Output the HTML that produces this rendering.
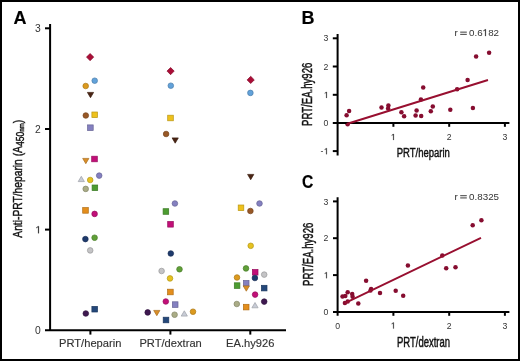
<!DOCTYPE html>
<html><head><meta charset="utf-8"><style>
html,body{margin:0;padding:0;background:#fff;}
#f{position:relative;width:520px;height:361px;overflow:hidden;background:#fff;font-family:"Liberation Sans",sans-serif;}
#f svg{position:absolute;left:0;top:0;will-change:transform;}
#bd{position:absolute;left:0;top:0;width:516px;height:357px;border:2px solid #000;}
</style></head><body><div id="f"><svg width="520" height="361" viewBox="0 0 520 361"><g><path d="M90.1 53.5L93.7 57.1L90.1 60.7L86.5 57.1Z" fill="#aa0d36" stroke="#840a2a" stroke-width="0.7"/><circle cx="94.7" cy="80.7" r="2.8" fill="#62a2da" stroke="#4c7eaa" stroke-width="0.7"/><circle cx="85.7" cy="86.0" r="2.8" fill="#dc9a1e" stroke="#ab7817" stroke-width="0.7"/><path d="M87.4 92.4L93.6 92.4L90.5 97.7Z" fill="#4a2414" stroke="#391c0f" stroke-width="0.7" stroke-linejoin="round"/><circle cx="85.8" cy="115.5" r="2.8" fill="#985826" stroke="#76441d" stroke-width="0.7"/><rect x="91.90" y="112.00" width="5.60" height="5.60" fill="#eec11c" stroke="#b99615" stroke-width="0.7"/><rect x="87.60" y="124.90" width="5.60" height="5.60" fill="#8480c0" stroke="#666395" stroke-width="0.7"/><path d="M82.7 158.4L88.9 158.4L85.8 163.7Z" fill="#d98e28" stroke="#a96e1f" stroke-width="0.7" stroke-linejoin="round"/><rect x="91.70" y="156.20" width="5.60" height="5.60" fill="#c20f78" stroke="#970b5d" stroke-width="0.7"/><path d="M78.2 181.6L84.4 181.6L81.3 176.3Z" fill="#c8ccd6" stroke="#9c9fa6" stroke-width="0.7" stroke-linejoin="round"/><circle cx="90.2" cy="180.0" r="2.8" fill="#e6c220" stroke="#b39718" stroke-width="0.7"/><circle cx="99.2" cy="175.6" r="2.8" fill="#8480c0" stroke="#666395" stroke-width="0.7"/><circle cx="85.7" cy="188.9" r="2.8" fill="#aaac86" stroke="#848668" stroke-width="0.7"/><rect x="92.10" y="185.00" width="5.60" height="5.60" fill="#4c9c30" stroke="#3b7925" stroke-width="0.7"/><rect x="82.70" y="207.60" width="5.60" height="5.60" fill="#e48e1c" stroke="#b16e15" stroke-width="0.7"/><circle cx="94.6" cy="213.9" r="2.8" fill="#c20f78" stroke="#970b5d" stroke-width="0.7"/><circle cx="85.4" cy="239.1" r="2.8" fill="#1e3a6c" stroke="#172d54" stroke-width="0.7"/><circle cx="94.6" cy="237.7" r="2.8" fill="#60a038" stroke="#4a7c2b" stroke-width="0.7"/><circle cx="90.2" cy="250.4" r="2.8" fill="#c4c4c6" stroke="#98989a" stroke-width="0.7"/><circle cx="85.8" cy="313.5" r="2.8" fill="#3e1850" stroke="#30123e" stroke-width="0.7"/><rect x="91.90" y="306.40" width="5.60" height="5.60" fill="#24487a" stroke="#1c385f" stroke-width="0.7"/><path d="M170.6 67.5L174.2 71.1L170.6 74.7L167.0 71.1Z" fill="#aa0d36" stroke="#840a2a" stroke-width="0.7"/><circle cx="170.8" cy="85.7" r="2.8" fill="#62a2da" stroke="#4c7eaa" stroke-width="0.7"/><rect x="167.70" y="115.20" width="5.60" height="5.60" fill="#eec11c" stroke="#b99615" stroke-width="0.7"/><circle cx="166.1" cy="134.0" r="2.8" fill="#985826" stroke="#76441d" stroke-width="0.7"/><path d="M172.1 137.9L178.3 137.9L175.2 143.2Z" fill="#4a2414" stroke="#391c0f" stroke-width="0.7" stroke-linejoin="round"/><circle cx="174.9" cy="203.5" r="2.8" fill="#8480c0" stroke="#666395" stroke-width="0.7"/><rect x="163.10" y="208.70" width="5.60" height="5.60" fill="#4c9c30" stroke="#3b7925" stroke-width="0.7"/><rect x="167.70" y="221.50" width="5.60" height="5.60" fill="#c20f78" stroke="#970b5d" stroke-width="0.7"/><circle cx="170.8" cy="253.5" r="2.8" fill="#1e3a6c" stroke="#172d54" stroke-width="0.7"/><circle cx="161.6" cy="271.0" r="2.8" fill="#c4c4c6" stroke="#98989a" stroke-width="0.7"/><circle cx="179.5" cy="269.3" r="2.8" fill="#60a038" stroke="#4a7c2b" stroke-width="0.7"/><circle cx="170.0" cy="278.4" r="2.8" fill="#e6c220" stroke="#b39718" stroke-width="0.7"/><rect x="167.60" y="289.20" width="5.60" height="5.60" fill="#e48e1c" stroke="#b16e15" stroke-width="0.7"/><circle cx="165.8" cy="301.5" r="2.8" fill="#c20f78" stroke="#970b5d" stroke-width="0.7"/><rect x="172.40" y="301.80" width="5.60" height="5.60" fill="#8480c0" stroke="#666395" stroke-width="0.7"/><circle cx="147.7" cy="312.4" r="2.8" fill="#3e1850" stroke="#30123e" stroke-width="0.7"/><path d="M153.7 310.4L159.9 310.4L156.8 315.7Z" fill="#d98e28" stroke="#a96e1f" stroke-width="0.7" stroke-linejoin="round"/><rect x="163.20" y="317.20" width="5.60" height="5.60" fill="#24487a" stroke="#1c385f" stroke-width="0.7"/><circle cx="174.6" cy="314.7" r="2.8" fill="#aaac86" stroke="#848668" stroke-width="0.7"/><path d="M181.2 316.1L187.4 316.1L184.3 310.8Z" fill="#c8ccd6" stroke="#9c9fa6" stroke-width="0.7" stroke-linejoin="round"/><circle cx="193.0" cy="311.7" r="2.8" fill="#dc9a1e" stroke="#ab7817" stroke-width="0.7"/><path d="M250.7 76.3L254.3 79.9L250.7 83.5L247.1 79.9Z" fill="#aa0d36" stroke="#840a2a" stroke-width="0.7"/><circle cx="250.4" cy="92.9" r="2.8" fill="#62a2da" stroke="#4c7eaa" stroke-width="0.7"/><path d="M247.6 174.4L253.8 174.4L250.7 179.7Z" fill="#4a2414" stroke="#391c0f" stroke-width="0.7" stroke-linejoin="round"/><rect x="238.20" y="205.00" width="5.60" height="5.60" fill="#eec11c" stroke="#b99615" stroke-width="0.7"/><circle cx="250.4" cy="211.0" r="2.8" fill="#985826" stroke="#76441d" stroke-width="0.7"/><circle cx="259.5" cy="203.5" r="2.8" fill="#8480c0" stroke="#666395" stroke-width="0.7"/><circle cx="250.7" cy="245.8" r="2.8" fill="#e6c220" stroke="#b39718" stroke-width="0.7"/><circle cx="246.0" cy="268.4" r="2.8" fill="#60a038" stroke="#4a7c2b" stroke-width="0.7"/><rect x="252.40" y="269.50" width="5.60" height="5.60" fill="#c20f78" stroke="#970b5d" stroke-width="0.7"/><circle cx="264.2" cy="274.6" r="2.8" fill="#c4c4c6" stroke="#98989a" stroke-width="0.7"/><circle cx="254.9" cy="278.0" r="2.8" fill="#1e3a6c" stroke="#172d54" stroke-width="0.7"/><circle cx="237.0" cy="277.5" r="2.8" fill="#dc9a1e" stroke="#ab7817" stroke-width="0.7"/><rect x="234.30" y="282.80" width="5.60" height="5.60" fill="#4c9c30" stroke="#3b7925" stroke-width="0.7"/><rect x="243.40" y="280.50" width="5.60" height="5.60" fill="#8480c0" stroke="#666395" stroke-width="0.7"/><path d="M243.2 285.9L249.4 285.9L246.3 291.2Z" fill="#d98e28" stroke="#a96e1f" stroke-width="0.7" stroke-linejoin="round"/><rect x="261.40" y="285.30" width="5.60" height="5.60" fill="#24487a" stroke="#1c385f" stroke-width="0.7"/><circle cx="255.1" cy="294.6" r="2.8" fill="#c20f78" stroke="#970b5d" stroke-width="0.7"/><circle cx="264.2" cy="301.6" r="2.8" fill="#3e1850" stroke="#30123e" stroke-width="0.7"/><circle cx="236.8" cy="304.0" r="2.8" fill="#aaac86" stroke="#848668" stroke-width="0.7"/><rect x="243.40" y="304.30" width="5.60" height="5.60" fill="#e48e1c" stroke="#b16e15" stroke-width="0.7"/><path d="M251.9 307.8L258.1 307.8L255.0 302.5Z" fill="#c8ccd6" stroke="#9c9fa6" stroke-width="0.7" stroke-linejoin="round"/></g><g fill="#860d30"><circle cx="346.6" cy="115.2" r="2.25"/><circle cx="349.1" cy="111.1" r="2.25"/><circle cx="347.6" cy="124.3" r="2.25"/><circle cx="381.5" cy="107.4" r="2.25"/><circle cx="388.4" cy="105.4" r="2.25"/><circle cx="388.1" cy="108.4" r="2.25"/><circle cx="401.4" cy="112.3" r="2.25"/><circle cx="404.1" cy="116.2" r="2.25"/><circle cx="416.6" cy="110.4" r="2.25"/><circle cx="415.6" cy="115.4" r="2.25"/><circle cx="421.2" cy="115.9" r="2.25"/><circle cx="430.8" cy="111.3" r="2.25"/><circle cx="432.8" cy="106.6" r="2.25"/><circle cx="420.9" cy="99.4" r="2.25"/><circle cx="423.2" cy="87.5" r="2.25"/><circle cx="450.3" cy="109.7" r="2.25"/><circle cx="457.1" cy="89.2" r="2.25"/><circle cx="467.6" cy="80.0" r="2.25"/><circle cx="472.9" cy="107.9" r="2.25"/><circle cx="476.1" cy="56.6" r="2.25"/><circle cx="489.1" cy="52.7" r="2.25"/><circle cx="342.5" cy="296.4" r="2.25"/><circle cx="345.3" cy="296.1" r="2.25"/><circle cx="347.7" cy="292.3" r="2.25"/><circle cx="352.2" cy="294.0" r="2.25"/><circle cx="352.6" cy="296.8" r="2.25"/><circle cx="344.9" cy="303.0" r="2.25"/><circle cx="347.7" cy="301.6" r="2.25"/><circle cx="358.3" cy="303.5" r="2.25"/><circle cx="366.1" cy="280.8" r="2.25"/><circle cx="370.5" cy="290.4" r="2.25"/><circle cx="371.1" cy="289.0" r="2.25"/><circle cx="380.0" cy="292.9" r="2.25"/><circle cx="395.7" cy="290.7" r="2.25"/><circle cx="403.2" cy="295.7" r="2.25"/><circle cx="407.9" cy="265.5" r="2.25"/><circle cx="442.3" cy="255.6" r="2.25"/><circle cx="446.2" cy="268.2" r="2.25"/><circle cx="455.5" cy="267.2" r="2.25"/><circle cx="472.7" cy="225.2" r="2.25"/><circle cx="481.4" cy="220.3" r="2.25"/></g><g stroke="#000" stroke-width="2" fill="none"><path d="M50.1 24V330.3M45 330.3H286"/><path d="M45 28.3H50"/><path d="M45 129.0H50"/><path d="M45 229.6H50"/><path d="M90.4 330H90.4V334.6" /><path d="M170.4 330H170.4V334.6" /><path d="M250.3 330H250.3V334.6" /><path d="M337.6 34.1V155.4M332.8 123H509.4"/><path d="M332.8 38.3H337.6"/><path d="M332.8 66.5H337.6"/><path d="M332.8 94.8H337.6"/><path d="M332.8 151.1H337.6"/><path d="M393.4 123V126.8"/><path d="M449.2 123V126.8"/><path d="M504.9 123V126.8"/><path d="M337.6 197.3V315.8M333 312.1H509.4"/><path d="M333 201.4H337.6"/><path d="M333 238.2H337.6"/><path d="M333 275.1H337.6"/><path d="M393.4 312V315.8"/><path d="M449.2 312V315.8"/><path d="M504.9 312V315.8"/></g><path d="M346.6 124.0L488 80.0M344.9 303.1L481 237.8" stroke="#980f30" stroke-width="1.9" fill="none"/><text x="13.6" y="23.5" font-family="Liberation Sans, sans-serif" font-weight="bold" font-size="18" stroke="#000" stroke-width="0.15">A</text><text x="301.4" y="23.7" font-family="Liberation Sans, sans-serif" font-weight="bold" font-size="18" stroke="#000" stroke-width="0.15">B</text><text transform="translate(302.0,187.6) scale(0.87,1)" font-family="Liberation Sans, sans-serif" font-weight="bold" font-size="18" stroke="#000" stroke-width="0.15">C</text><text x="34.97" y="32.0" font-family="Liberation Sans, sans-serif" font-size="10.3" fill="#333">3</text><text x="34.97" y="132.7" font-family="Liberation Sans, sans-serif" font-size="10.3" fill="#333">2</text><path d="M515 0L515 1237L197 1010L197 1180L530 1409L696 1409L696 0Z" transform="translate(35.45,233.3) scale(0.005029,-0.005029)" fill="#333" stroke="#333" stroke-width="39.8" stroke-linejoin="round"/><text x="34.97" y="334.0" font-family="Liberation Sans, sans-serif" font-size="10.3" fill="#333">0</text><text transform="translate(90.2,347.3) scale(0.97,1)" font-family="Liberation Sans, sans-serif" font-size="11.5" text-anchor="middle" fill="#333" stroke="#333" stroke-width="0.15">PRT/heparin</text><text transform="translate(170.6,347.3) scale(0.97,1)" font-family="Liberation Sans, sans-serif" font-size="11.5" text-anchor="middle" fill="#333" stroke="#333" stroke-width="0.15">PRT/dextran</text><text transform="translate(250.2,347.3) scale(0.97,1)" font-family="Liberation Sans, sans-serif" font-size="11.5" text-anchor="middle" fill="#333" stroke="#333" stroke-width="0.15">EA.hy926</text><g transform="translate(22.2,178.8) rotate(-90) scale(0.79,1)"><text x="0" y="0" font-family="Liberation Sans, sans-serif" font-size="13" text-anchor="middle" fill="#111" stroke="#111" stroke-width="0.42">Anti-PRT/heparin (A<tspan font-size="10.8" dy="2.2">450</tspan><tspan font-size="7.8">nm</tspan><tspan dy="-2.2">)</tspan></text></g><text x="323.46" y="41.4" font-family="Liberation Sans, sans-serif" font-size="8.7" fill="#333">3</text><text x="323.46" y="69.6" font-family="Liberation Sans, sans-serif" font-size="8.7" fill="#333">2</text><path d="M515 0L515 1237L197 1010L197 1180L530 1409L696 1409L696 0Z" transform="translate(323.93,97.9) scale(0.004248,-0.004248)" fill="#333" stroke="#333" stroke-width="47.1" stroke-linejoin="round"/><text x="323.46" y="126.1" font-family="Liberation Sans, sans-serif" font-size="8.7" fill="#333">0</text><text x="320.56" y="154.2" font-family="Liberation Sans, sans-serif" font-size="8.7" fill="#333">-</text><path d="M515 0L515 1237L197 1010L197 1180L530 1409L696 1409L696 0Z" transform="translate(323.93,154.2) scale(0.004248,-0.004248)" fill="#333" stroke="#333" stroke-width="47.1" stroke-linejoin="round"/><path d="M515 0L515 1237L197 1010L197 1180L530 1409L696 1409L696 0Z" transform="translate(390.93,140) scale(0.004248,-0.004248)" fill="#333" stroke="#333" stroke-width="47.1" stroke-linejoin="round"/><text x="446.78" y="140" font-family="Liberation Sans, sans-serif" font-size="8.7" fill="#333">2</text><text x="502.48" y="140" font-family="Liberation Sans, sans-serif" font-size="8.7" fill="#333">3</text><text x="323.46" y="204.5" font-family="Liberation Sans, sans-serif" font-size="8.7" fill="#333">3</text><text x="323.46" y="241.3" font-family="Liberation Sans, sans-serif" font-size="8.7" fill="#333">2</text><path d="M515 0L515 1237L197 1010L197 1180L530 1409L696 1409L696 0Z" transform="translate(323.93,278.2) scale(0.004248,-0.004248)" fill="#333" stroke="#333" stroke-width="47.1" stroke-linejoin="round"/><text x="323.46" y="315.2" font-family="Liberation Sans, sans-serif" font-size="8.7" fill="#333">0</text><text x="335.18" y="328.6" font-family="Liberation Sans, sans-serif" font-size="8.7" fill="#333">0</text><path d="M515 0L515 1237L197 1010L197 1180L530 1409L696 1409L696 0Z" transform="translate(390.93,328.6) scale(0.004248,-0.004248)" fill="#333" stroke="#333" stroke-width="47.1" stroke-linejoin="round"/><text x="446.78" y="328.6" font-family="Liberation Sans, sans-serif" font-size="8.7" fill="#333">2</text><text x="502.48" y="328.6" font-family="Liberation Sans, sans-serif" font-size="8.7" fill="#333">3</text><g transform="translate(423.3,157.2) scale(0.705,1)"><text x="0" y="0" font-family="Liberation Sans, sans-serif" font-size="13.5" text-anchor="middle" fill="#111" stroke="#111" stroke-width="0.45">PRT/heparin</text></g><g transform="translate(423.5,346.8) scale(0.69,1)"><text x="0" y="0" font-family="Liberation Sans, sans-serif" font-size="13.8" text-anchor="middle" fill="#111" stroke="#111" stroke-width="0.45">PRT/dextran</text></g><g transform="translate(312,94.3) rotate(-90) scale(0.695,1)"><text x="0" y="0" font-family="Liberation Sans, sans-serif" font-size="13.8" text-anchor="middle" fill="#111" stroke="#111" stroke-width="0.45">PRT/EA.hy926</text></g><g transform="translate(313,254.3) rotate(-90) scale(0.695,1)"><text x="0" y="0" font-family="Liberation Sans, sans-serif" font-size="13.8" text-anchor="middle" fill="#111" stroke="#111" stroke-width="0.45">PRT/EA.hy926</text></g><text x="454.50" y="36.1" font-family="Liberation Sans, sans-serif" font-size="9.8" fill="#333">r</text><rect x="460.2" y="31.65" width="6.6" height="0.95" fill="#333"/><rect x="460.2" y="33.85" width="6.6" height="0.95" fill="#333"/><text x="469.10" y="36.1" font-family="Liberation Sans, sans-serif" font-size="9.8" fill="#333">0.6</text><path d="M515 0L515 1237L197 1010L197 1180L530 1409L696 1409L696 0Z" transform="translate(482.60,36.1) scale(0.004785,-0.004785)" fill="#333" stroke="#333" stroke-width="41.8" stroke-linejoin="round"/><text x="488.17" y="36.1" font-family="Liberation Sans, sans-serif" font-size="9.8" fill="#333">82</text><text x="454.50" y="199.7" font-family="Liberation Sans, sans-serif" font-size="9.8" fill="#333">r</text><rect x="460.2" y="195.25" width="6.6" height="0.95" fill="#333"/><rect x="460.2" y="197.45" width="6.6" height="0.95" fill="#333"/><text x="469.10" y="199.7" font-family="Liberation Sans, sans-serif" font-size="9.8" fill="#333">0.8325</text></svg><div id="bd"></div></div></body></html>
